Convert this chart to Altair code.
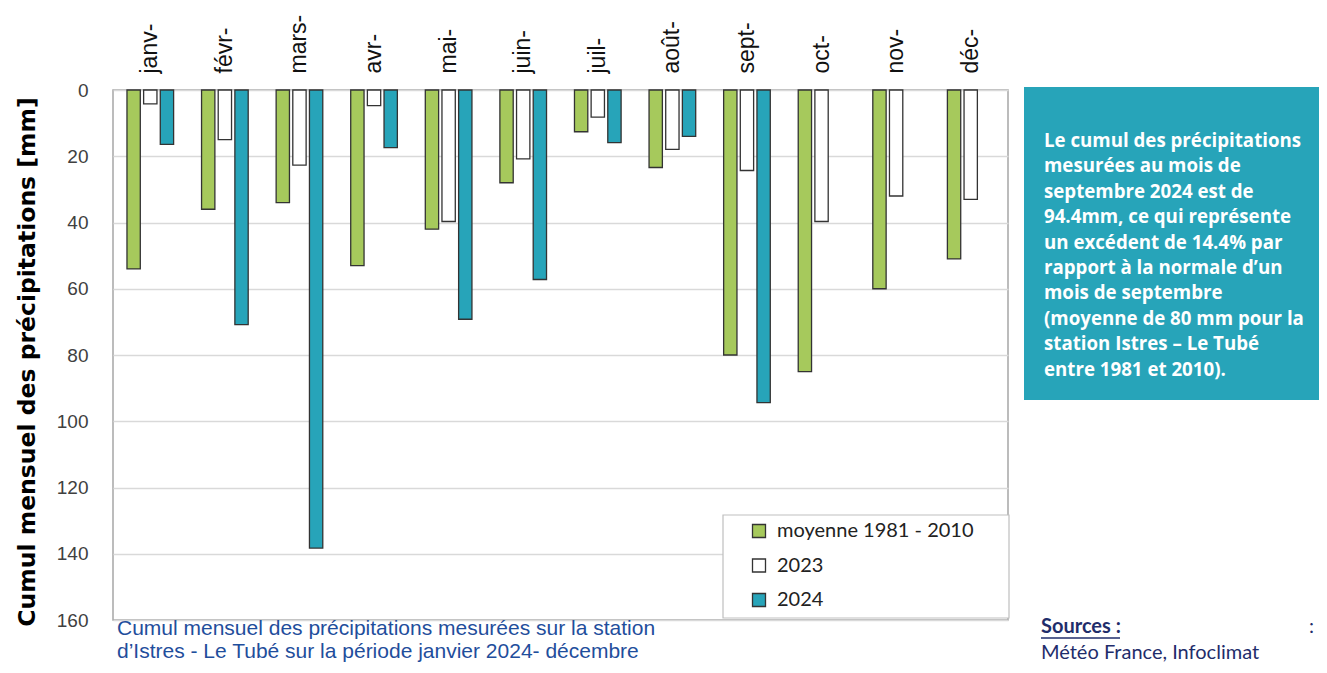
import altair as alt
import pandas as pd

months = ["janv-", "févr-", "mars-", "avr-", "mai-", "juin-", "juil-", "août-",
          "sept-", "oct-", "nov-", "déc-"]
series = ["moyenne 1981 - 2010", "2023", "2024"]
moyenne = [54, 36, 34, 53, 42, 28, 12.6, 23.4, 80, 85, 60, 51]
y2023 = [4.2, 15, 22.7, 4.7, 39.7, 20.8, 8.2, 17.9, 24.3, 39.7, 32, 33]
y2024 = [16.4, 70.8, 138.3, 17.4, 69.2, 57.2, 15.9, 14, 94.4, None, None, None]
y_ticks = [0, 20, 40, 60, 80, 100, 120, 140, 160]
colors = ["#a6c95c", "#ffffff", "#27a4b9"]

box_lines = [
    "Le cumul des précipitations",
    "mesurées au mois de",
    "septembre 2024 est de",
    "94.4mm, ce qui représente",
    "un excédent de 14.4% par",
    "rapport à la normale d’un",
    "mois de septembre",
    "(moyenne de 80 mm pour la",
    "station Istres – Le Tubé",
    "entre 1981 et 2010).",
]
caption_lines = [
    "Cumul mensuel des précipitations mesurées sur la station",
    "d’Istres - Le Tubé sur la période janvier 2024- décembre",
]
y_title = "Cumul mensuel des précipitations [mm]"

rows = []
for s, vals in zip(series, [moyenne, y2023, y2024]):
    for m, v in zip(months, vals):
        if v is not None:
            rows.append({"month": m, "series": s, "value": v})
df = pd.DataFrame(rows)
one = pd.DataFrame({"a": [0]})

W, H = 895, 530

bars = alt.Chart(df).mark_bar(stroke="#333333", strokeWidth=1.3).encode(
    x=alt.X("month:N", sort=months,
            scale=alt.Scale(paddingInner=0.33, paddingOuter=0.165),
            axis=alt.Axis(orient="top", labelAngle=-90, title=None, ticks=False,
                          domain=False, labelPadding=17, labelFontSize=23,
                          labelFont="Liberation Sans", labelColor="#111111",
                          grid=False)),
    xOffset=alt.XOffset("series:N", sort=series,
                        scale=alt.Scale(domain=series, paddingInner=0.2, paddingOuter=0.1)),
    y=alt.Y("value:Q",
            scale=alt.Scale(domain=[0, 160], reverse=True, nice=False),
            axis=alt.Axis(values=y_ticks, title=None, ticks=False, domain=False,
                          labelPadding=25, labelFontSize=19, labelFont="Liberation Sans",
                          labelColor="#404040", gridColor="#d9d9d9", gridWidth=1.3)),
    fill=alt.Fill("series:N", sort=series,
                  scale=alt.Scale(domain=series, range=colors),
                  legend=alt.Legend(orient="none", legendX=636, legendY=431,
                                    title=None, symbolType="square", symbolSize=169,
                                    symbolStrokeColor="#333333", symbolStrokeWidth=1.3,
                                    labelFont="Lato", labelFontSize=20, labelLimit=400,
                                    labelColor="#222222", labelOffset=8,
                                    rowPadding=14.5, padding=0)),
)

legend_box = alt.Chart(one).mark_rect(fill="white", stroke="#bfbfbf", strokeWidth=1.2).encode(
    x=alt.value(610), x2=alt.value(896), y=alt.value(425), y2=alt.value(528)
)

ytitle = alt.Chart(one).mark_text(
    text=y_title, angle=270, font="DejaVu Sans", fontWeight="bold",
    fontSize=23.5, color="#000000", align="center", baseline="middle"
).encode(x=alt.value(-85), y=alt.value(272))

teal_box = alt.Chart(one).mark_rect(fill="#27a4b9").encode(
    x=alt.value(911), x2=alt.value(1230), y=alt.value(-3), y2=alt.value(310)
)

box_text = alt.Chart(one).mark_text(
    text=box_lines, font="Open Sans", fontWeight="bold", fontSize=18.7,
    color="white", align="left", baseline="top", lineHeight=25.4
).encode(x=alt.value(931), y=alt.value(42))

caption = alt.Chart(one).mark_text(
    text=caption_lines, font="Liberation Sans", fontSize=21, color="#1f4e9c",
    align="left", baseline="middle", lineHeight=22.5
).encode(x=alt.value(4), y=alt.value(539))

sources = alt.Chart(one).mark_text(
    text="Sources :", font="Lato", fontWeight="bold", fontSize=20, color="#1f2d6b",
    align="left", baseline="middle"
).encode(x=alt.value(928), y=alt.value(537))

sources_line = alt.Chart(one).mark_rule(color="#1f2d6b", strokeWidth=1.5).encode(
    x=alt.value(928), x2=alt.value(1007), y=alt.value(548)
)

colon = alt.Chart(one).mark_text(
    text=":", font="Lato", fontSize=20, color="#1f2d6b", align="left", baseline="middle"
).encode(x=alt.value(1196), y=alt.value(537))

source_txt = alt.Chart(one).mark_text(
    text="Météo France, Infoclimat", font="Lato", fontSize=20, color="#1f2d6b",
    align="left", baseline="middle"
).encode(x=alt.value(928), y=alt.value(563))

chart = alt.layer(
    bars, legend_box, ytitle, teal_box, box_text, caption, sources, sources_line,
    colon, source_txt
).properties(
    width=W, height=H,
    autosize=alt.AutoSizeParams(type="none"),
    padding={"left": 105, "top": 82, "right": 311, "bottom": 45},
).configure_view(stroke="#a6a6a6", strokeWidth=1.5)

chart.save("out.html", embed_options={"renderer": "svg", "actions": False})
